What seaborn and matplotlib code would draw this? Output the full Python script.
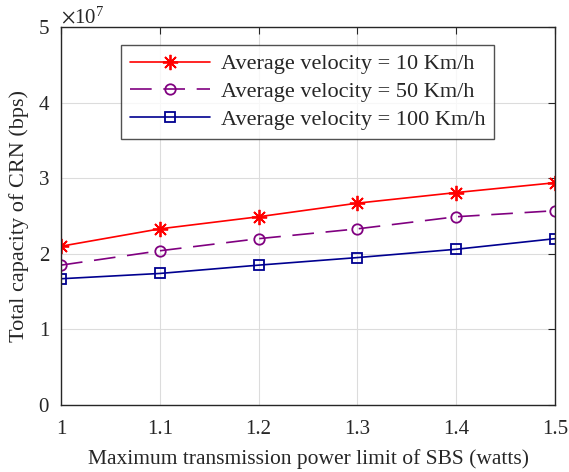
import matplotlib
matplotlib.use("Agg")
import matplotlib.pyplot as plt
import seaborn as sns
import pandas as pd
from matplotlib.ticker import ScalarFormatter

power = [1.0, 1.1, 1.2, 1.3, 1.4, 1.5]
v10 = [2.10e7, 2.33e7, 2.49e7, 2.67e7, 2.81e7, 2.94e7]
v50 = [1.85e7, 2.04e7, 2.20e7, 2.33e7, 2.49e7, 2.57e7]
v100 = [1.67e7, 1.74e7, 1.85e7, 1.95e7, 2.06e7, 2.20e7]
labels = ["Average velocity = 10 Km/h", "Average velocity = 50 Km/h", "Average velocity = 100 Km/h"]

df = pd.DataFrame({
    "power": power * 3,
    "capacity": v10 + v50 + v100,
    "series": [labels[0]] * 6 + [labels[1]] * 6 + [labels[2]] * 6,
})

sns.set_style("white")
plt.rcParams["font.family"] = ["Liberation Serif", "DejaVu Serif"]
plt.rcParams["mathtext.fontset"] = "stix"

fig = plt.figure(figsize=(5.69, 4.72), dpi=100)
ax = fig.add_axes([61/569, 67/472, 494/569, 378/472])

colors = ["#ff0000", "#800080", "#000090"]
markers = [(8, 2, 0), "o", "s"]
styles = ["-", (0, (13, 7)), "-"]
msizes = [11, 7.5, 6.5]
for lab, c, m, ls, ms in zip(labels, colors, markers, styles, msizes):
    sub = df[df["series"] == lab]
    sns.lineplot(data=sub, x="power", y="capacity", ax=ax, color=c, marker=m,
                 linestyle=ls, markersize=ms, linewidth=1.2, markerfacecolor="none",
                 markeredgecolor=c, markeredgewidth=1.3, label=lab)

ax.set_xlim(1, 1.5)
ax.set_ylim(0, 5e7)
ax.set_xticks(power)
ax.set_xticklabels(["1", "1.1", "1.2", "1.3", "1.4", "1.5"])
ax.set_yticks([0, 1e7, 2e7, 3e7, 4e7, 5e7])
fmt = ScalarFormatter(useMathText=True)
fmt.set_powerlimits((0, 0))
ax.yaxis.set_major_formatter(fmt)
ax.yaxis.get_offset_text().set_fontsize(15)

ax.grid(True, color="#dcdcdc", linewidth=0.8)
ax.set_axisbelow(True)
for s in ax.spines.values():
    s.set_color("#262626")
    s.set_linewidth(1.0)
ax.tick_params(axis="both", direction="in", length=5, width=0.8, top=True, right=True,
               labelsize=15, colors="#262626", pad=8)
ax.tick_params(axis="x", pad=11)
ax.set_xlabel("Maximum transmission power limit of SBS (watts)", fontsize=15.5, color="#262626", labelpad=7)
ax.set_ylabel("Total capacity of CRN (bps)", fontsize=16, color="#262626", labelpad=6)

leg = ax.legend(loc="upper left", bbox_to_anchor=(60/494, 1 - 18/378), fontsize=16,
                handlelength=3.6, frameon=True, fancybox=False, edgecolor="#262626",
                borderpad=0.4, labelspacing=0.32, handletextpad=0.5, borderaxespad=0)
leg.get_frame().set_linewidth(1.0)

fig.savefig("out.png", dpi=100)
